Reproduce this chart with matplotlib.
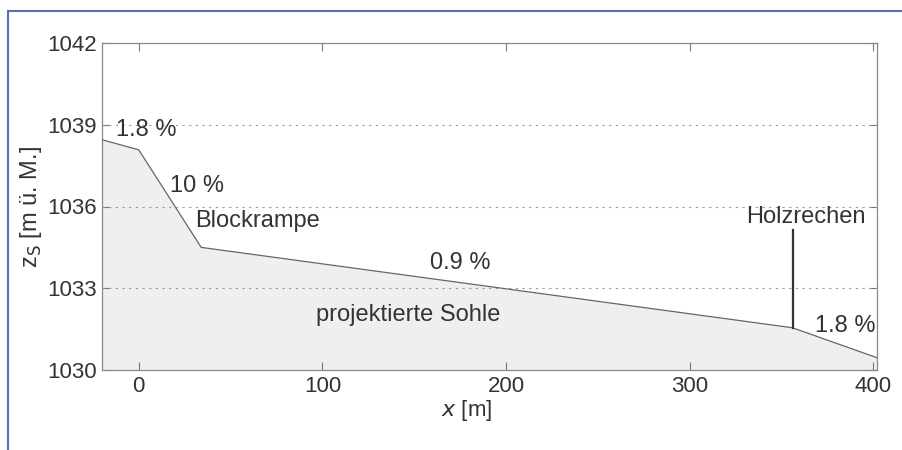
import matplotlib
matplotlib.use('Agg')
from matplotlib import pyplot as plt
from matplotlib.lines import Line2D

# Sohlenprofil (x in m, z in m ü. M.)
x_profile = [-20, 0, 34, 356, 402]
z_profile = [1038.45, 1038.08, 1034.5, 1031.55, 1030.45]

x_rechen = 356
z_rechen = [1031.55, 1035.15]

x_ticks = [0, 100, 200, 300, 400]
y_ticks = [1030, 1033, 1036, 1039, 1042]

plt.rcParams['font.family'] = ['Liberation Sans', 'DejaVu Sans']
txt = '#333333'

fig = plt.figure(figsize=(9.02, 4.5), dpi=100)
ax = fig.add_axes([102/902, 80/450, 775/902, 327/450])

ax.fill_between(x_profile, z_profile, 1030, color='#efefef', lw=0, zorder=1)
ax.plot(x_profile, z_profile, color='#666666', lw=0.9, zorder=3)
ax.plot([x_rechen, x_rechen], z_rechen, color='#333333', lw=1.6, zorder=4)

for yv in [1033, 1036, 1039]:
  ax.axhline(yv, color='#999999', lw=0.8, ls=(0, (2, 4)), zorder=2)

ax.set_xlim(-20, 402)
ax.set_ylim(1030, 1042)
ax.set_xticks(x_ticks)
ax.set_yticks(y_ticks)
ax.tick_params(direction='in', length=6, width=0.8, color='#777777',
    labelsize=16, labelcolor=txt, top=True, right=True, pad=4)
for s in ax.spines.values():
  s.set_color('#888888')
  s.set_linewidth(0.9)

ax.set_xlabel('$x$ [m]', fontsize=16, color=txt, labelpad=1, x=0.47)
ax.set_ylabel('z$_\\mathrm{S}$ [m ü. M.]', fontsize=17, color=txt, labelpad=2)

fs = 17
ax.text(-12.5, 1038.8, '1.8 %', fontsize=fs, color=txt, va='center', ha='left', zorder=5)
ax.text(17, 1036.75, '10 %', fontsize=fs, color=txt, va='center', ha='left', zorder=5)
ax.text(30.5, 1035.47, 'Blockrampe', fontsize=fs, color=txt, va='center', ha='left', zorder=5)
ax.text(175, 1033.93, '0.9 %', fontsize=fs, color=txt, va='center', ha='center', zorder=5)
ax.text(96.5, 1032.02, 'projektierte Sohle', fontsize=fs, color=txt, va='center', ha='left', zorder=5)
ax.text(363, 1035.6, 'Holzrechen', fontsize=fs, color=txt, va='center', ha='center', zorder=5)
ax.text(368, 1031.6, '1.8 %', fontsize=fs, color=txt, va='center', ha='left', zorder=5)

# blauer Rahmen
blue = '#5b6fb2'
fig.add_artist(Line2D([8/902, 8/902], [0, 1 - 11/450], color=blue, lw=1.5,
    transform=fig.transFigure))
fig.add_artist(Line2D([8/902, 1], [1 - 11/450, 1 - 11/450], color=blue, lw=1.5,
    transform=fig.transFigure))

fig.savefig('out.png', dpi=100)
